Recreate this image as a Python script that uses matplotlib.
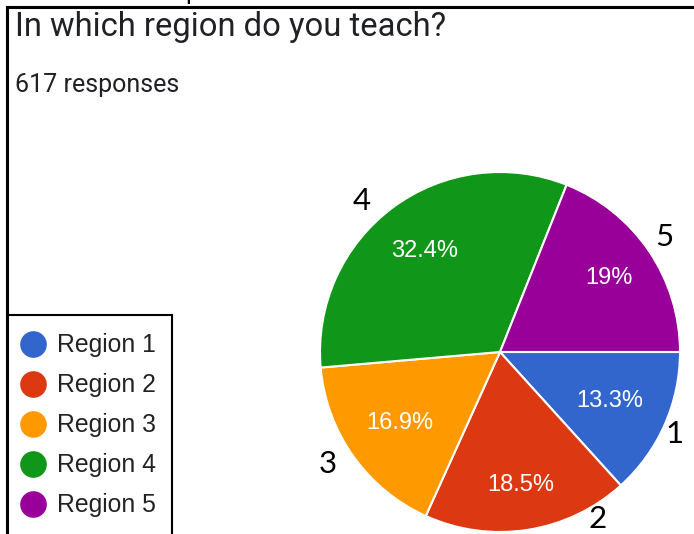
import matplotlib
matplotlib.use('Agg')
import numpy as np
import matplotlib.pyplot as plt

# data (617 responses)
regions = ['Region 1', 'Region 2', 'Region 3', 'Region 4', 'Region 5']
counts = [82, 114, 104, 200, 117]
colors = ['#3366cc', '#dc3912', '#ff9900', '#109618', '#990099']
numbers = ['1', '2', '3', '4', '5']
title = 'In which region do you teach?'
subtitle = '617 responses'

W, H = 694, 534
fig = plt.figure(figsize=(W / 100, H / 100), dpi=100)

# background axes in pixel units for the borders and text
bg = fig.add_axes([0, 0, 1, 1])
bg.set_xlim(0, W)
bg.set_ylim(H, 0)
bg.axis('off')

# frame lines of the screenshot
bg.plot([7, W], [7, 7], color='black', lw=2.2)
bg.plot([7, 7], [7, H], color='black', lw=2.2)
bg.plot([7, 172], [315, 315], color='black', lw=1.5)
bg.plot([172, 172], [315, H], color='black', lw=1.5)
bg.text(185, 0, 'p', fontsize=18, family='Lato', va='baseline', color='black')

bg.text(15, 36, title, fontsize=23.6, family='Roboto', color='#202124', va='baseline')
bg.text(15, 92, subtitle, fontsize=18, family='Roboto', color='#202124', va='baseline')

# legend
for i, (lab, col) in enumerate(zip(regions, colors)):
    y = 344 + i * 40
    bg.scatter([33], [y], s=330, color=col, zorder=3)
    bg.text(57, y + 1, lab, fontsize=17.8, family='Liberation Sans', color='#222222',
            va='center')

# pie
cx, cy, r = 500, 352, 180
ax = fig.add_axes([(cx - r) / W, (H - cy - r) / H, 2 * r / W, 2 * r / H])


def fmt(p):
    s = f'{p:.1f}'
    return s[:-2] + '%' if s.endswith('.0') else s + '%'


wedges, texts, autotexts = ax.pie(
    counts, colors=colors, startangle=0, counterclock=False,
    autopct=fmt, pctdistance=0.67,
    wedgeprops=dict(edgecolor='white', linewidth=1.5),
    textprops=dict(color='white', fontsize=17, family='Liberation Sans'))
ax.set_xlim(-1, 1)
ax.set_ylim(-1, 1)

# google places the percentages at slightly different radii
pct_r = [0.667, 0.75, 0.68, 0.70, 0.728]
for w, t, pr in zip(wedges, autotexts, pct_r):
    a = np.deg2rad((w.theta1 + w.theta2) / 2)
    t.set_position((pr * np.cos(a), pr * np.sin(a)))

# hand-written region numbers next to the slices
num_pos = [(675, 434), (598, 519), (328, 464), (362, 201), (664, 237)]
for n, (x, y) in zip(numbers, num_pos):
    bg.text(x, y, n, fontsize=22.5, family='Lato', color='black',
            ha='center', va='center', zorder=5)
bg.set_zorder(2)
bg.patch.set_alpha(0)

fig.savefig('out.png', dpi=100)
